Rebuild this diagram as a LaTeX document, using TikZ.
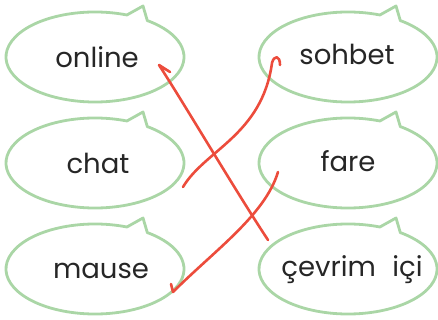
\documentclass[tikz,border=0pt]{standalone}
\usepackage{fontspec}
\setmainfont{Poppins}
\definecolor{bubblegreen}{RGB}{170,214,166}
\definecolor{penred}{RGB}{236,76,60}
\begin{document}
\begin{tikzpicture}[x=1pt,y=1pt,
  bubbleline/.style={draw=bubblegreen,line width=2.8pt,line join=round},
  word/.style={font=\fontsize{27.5}{32}\selectfont,text=black!85,inner sep=0pt},
  pen/.style={draw=penred,line width=2.6pt,line cap=round,line join=round},
  bubble/.pic={\draw[bubbleline] (69:89 and 45) arc[start angle=69,end angle=414,x radius=89,y radius=45] -- (48,51) -- cycle;}]
\useasboundingbox (0,0) rectangle (438,-320);
% bubbles
\pic at (95,-57) {bubble};
\pic at (95,-163) {bubble};
\pic at (95,-269) {bubble};
\pic at (348,-57) {bubble};
\pic at (348,-163) {bubble};
\pic at (348,-269) {bubble};
% words
\node[word] (online) at (97,-57) {online};
\node[word] (chat) at (98,-163) {chat};
\node[word] (mause) at (101,-271) {mause};
\node[word] (sohbet) at (347,-54) {sohbet};
\node[word] (fare) at (348,-161) {fare};
\node[word] (cevrim) at (352,-270) {çevrim\hspace{0.6em}içi};
% connector ends
\coordinate (o1) at (170,-72);
\coordinate (o2) at (159,-65);
\coordinate (c1) at (268,-240);
\coordinate (h1) at (183,-187);
\coordinate (s1) at (272,-63);
\coordinate (s2) at (280,-65);
\coordinate (f1) at (278,-172);
\coordinate (m1) at (173,-292);
\coordinate (m2) at (171,-284);
% connectors
\draw[pen] (o1) -- (o2) .. controls (185,-105) and (235,-190) .. (c1);
\draw[pen] (h1) .. controls (205,-150) and (262,-135) .. (s1) .. controls (274,-55) and (280,-55) .. (s2);
\draw[pen] (f1) .. controls (265,-215) and (215,-250) .. (m1) -- (m2);
\end{tikzpicture}
\end{document}
